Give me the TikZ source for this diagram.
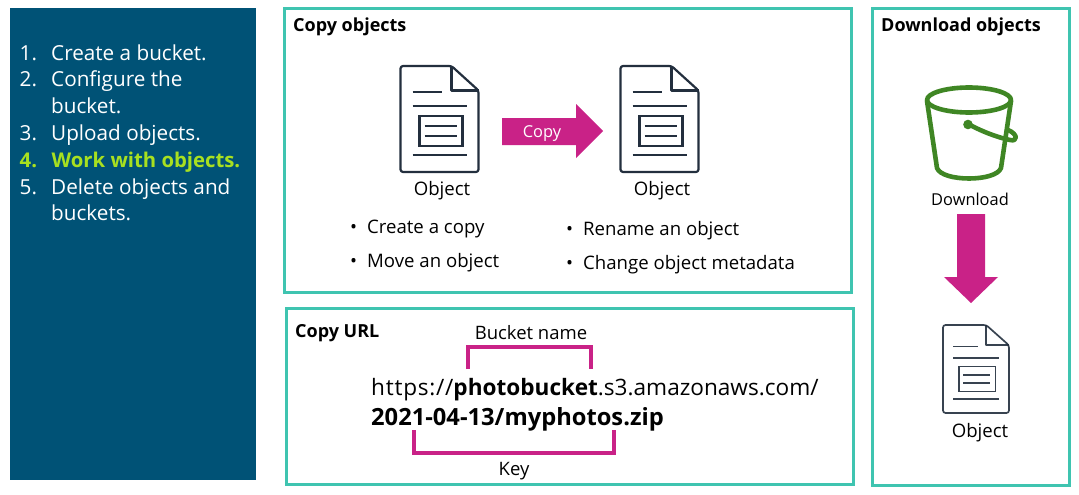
\documentclass[tikz,border=0pt]{standalone}
\usepackage{fontspec}
\setmainfont{Open Sans}
\definecolor{panel}{HTML}{005276}
\definecolor{teal}{HTML}{3FC4B0}
\definecolor{magenta}{HTML}{C92287}
\definecolor{ink}{HTML}{232F3E}
\definecolor{lime}{HTML}{A8E020}
\definecolor{bucketgreen}{HTML}{3F8624}
\newcommand\docw{2.2pt}
\tikzset{
  x=1pt,y=-1pt,
  frame/.style={draw=teal,line width=3pt,fill=white},
  listtxt/.style={anchor=base west,inner sep=0pt,text=white,font=\fontsize{20.7}{22}\selectfont},
  listbold/.style={listtxt,text=lime,font=\fontsize{20.3}{22}\selectfont\bfseries},
  head/.style={anchor=base west,inner sep=0pt,font=\fontsize{18}{20}\selectfont\bfseries},
  lab/.style={anchor=base,inner sep=0pt,font=\fontsize{18.6}{20}\selectfont},
  small/.style={anchor=base,inner sep=0pt,font=\fontsize{16.4}{18}\selectfont},
  note/.style={anchor=base,inner sep=0pt,font=\fontsize{18.5}{20}\selectfont},
  bul/.style={anchor=base west,inner sep=0pt,font=\fontsize{18.6}{20}\selectfont},
  url/.style={anchor=base west,inner sep=0pt,font=\fontsize{22.6}{26}\selectfont},
  urlbold/.style={url,font=\fontsize{23.7}{26}\selectfont\bfseries},
  bracket/.style={draw=magenta,line width=3.2pt},
  bigarrow/.style={fill=magenta,draw=none},
  doc/.pic={
    \draw[ink,line width=\docw,line join=round,rounded corners=2.5pt]
      (0,0) -- (51,0) -- (78,24.5) -- (78,106) -- (0,106) -- cycle;
    \draw[ink,line width=\docw,line join=round] (51,0) -- (51,24.5) -- (78,24.5);
    \draw[ink,line width=\docw] (12,26) -- (41,26) (12,40) -- (66,40) (12,89) -- (66,89);
    \draw[ink,line width=\docw] (19,50) rectangle (62,80);
    \draw[ink,line width=\docw] (24,60) -- (56,60) (24,70) -- (56,70);
  }
}
\begin{document}
\begin{tikzpicture}
\useasboundingbox (0,0) rectangle (1079,495);
\fill[white] (0,0) rectangle (1079,495);
% left panel
\fill[panel] (10,8) rectangle (256,480);
\node[listtxt] (n1) at (19.5,60) {1.};
\node[listtxt] (t1) at (51,60) {Create a bucket.};
\node[listtxt] (n2) at (19.5,87) {2.};
\node[listtxt] (t2) at (51,87) {Configure the};
\node[listtxt] (t2b) at (51,113) {bucket.};
\node[listtxt] (n3) at (19.5,140) {3.};
\node[listtxt] (t3) at (51,140) {Upload objects.};
\node[listbold] (n4) at (19.5,167) {4.};
\node[listbold] (t4) at (51.5,167) {Work with objects.};
\node[listtxt] (n5) at (19.5,194) {5.};
\node[listtxt] (t5) at (51,194) {Delete objects and};
\node[listtxt] (t5b) at (51,220) {buckets.};
% frames
\draw[frame] (284,9) rectangle (851,292);
\draw[frame] (286,308) rectangle (853,484);
\draw[frame] (872,9) rectangle (1069,485);
\node[head] (h1) at (293,32) {Copy objects};
\node[head] (h2) at (295,337) {Copy URL};
\node[head] (h3) at (881,32) {Download objects};
% copy objects
\pic at (400.5,66) {doc};
\pic at (620.5,66) {doc};
\node[lab] (o1) at (442,195) {Object};
\node[lab] (o2) at (662,195) {Object};
\fill[bigarrow] (502,118) -- (576,118) -- (576,104) -- (603,131) -- (576,158) -- (576,145) -- (502,145) -- cycle;
\node[small] at (542,137) [text=white] (cp) {Copy};
\node[bul] (b1) at (350,233) {•\hspace{10pt}Create a copy};
\node[bul] (b2) at (350,267) {•\hspace{10pt}Move an object};
\node[bul] (b3) at (566,235) {•\hspace{10pt}Rename an object};
\node[bul] (b4) at (566,269) {•\hspace{10pt}Change object metadata};
% copy URL
\node[note] (bn) at (531,339) {Bucket name};
\coordinate (ba) at (468,369);
\coordinate (bb) at (591,369);
\coordinate (bc) at (468,347);
\coordinate (bd) at (591,347);
\draw[bracket] (ba) -- (bc) -- (bd) -- (bb);
\node[url] (u1) at (371,395) {{\addfontfeatures{LetterSpace=3.3}https://}{\bfseries photobucket}.s3.amazonaws.com/};
\node[urlbold] (u2) at (371,425) {2021-04-13/myphotos.zip};
\coordinate (ka) at (414,430);
\coordinate (kb) at (614,430);
\coordinate (kc) at (414,453);
\coordinate (kd) at (614,453);
\draw[bracket] (ka) -- (kc) -- (kd) -- (kb);
\node[note] (ky) at (514,475) {Key};
% download
\begin{scope}[bucketgreen,line width=4.6pt,line join=round,line cap=round]
  \draw (969,100) ellipse [x radius=42,y radius=12.5];
  \draw (927,101) -- (937,168) .. controls (942,182) and (996,182) .. (1001,168) -- (1011,101);
  \draw (968,124) .. controls (985,133) and (1000,138) .. (1010,140) .. controls (1018,142) and (1018,134) .. (1008,130);
\end{scope}
\fill[bucketgreen] (968,124.5) circle (4.8);
\node[small] (dl) at (970,205) {Download};
\fill[bigarrow] (957,214) -- (985,214) -- (985,277) -- (998,277) -- (971,303) -- (944,277) -- (957,277) -- cycle;
\begin{scope}
  \renewcommand\docw{1.7pt}
  \pic[xscale=.846,yscale=.83,opacity=.9] at (943,325) {doc};
\end{scope}
\node[lab] (o3) at (980,437) {Object};
\end{tikzpicture}
\end{document}
